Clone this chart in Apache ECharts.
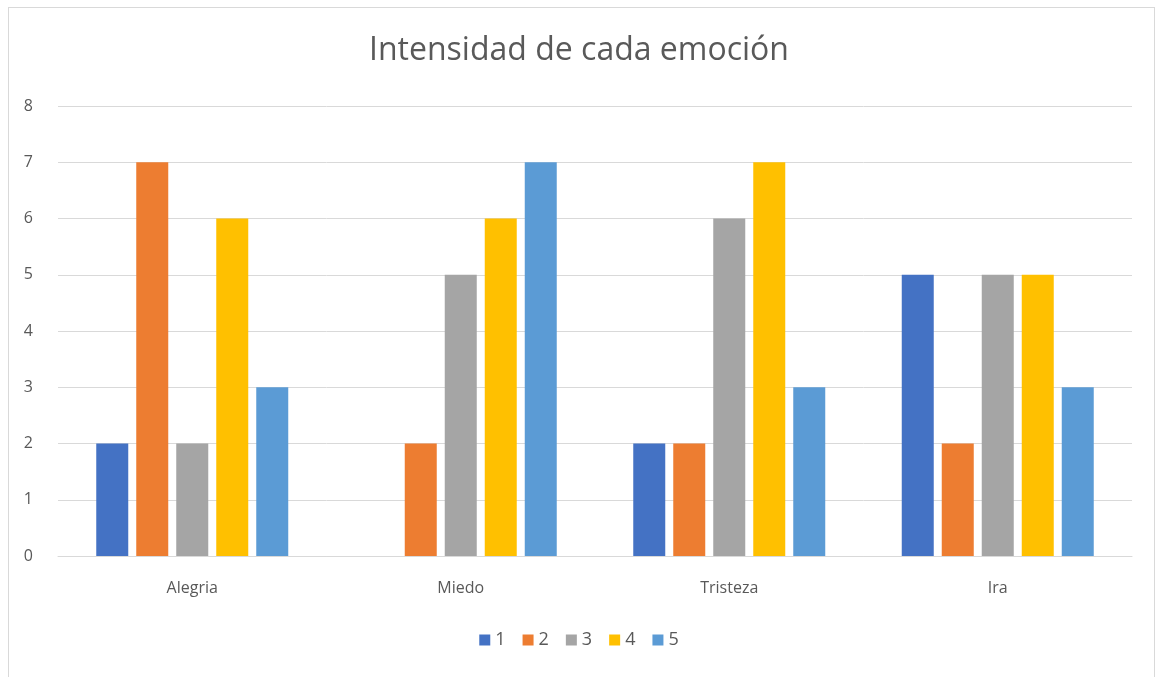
<!DOCTYPE html>
<html>
<head>
<meta charset="utf-8">
<script src="https://cdn.jsdelivr.net/npm/echarts@6/dist/echarts.min.js"></script>
<style>
  html, body { margin: 0; padding: 0; background: #fff; }
  #chart { width: 1158px; height: 677px; }
  .frame { position: absolute; left: 8px; top: 7px; width: 1147px; height: 680px; border: 1px solid #d9d9d9; box-sizing: border-box; pointer-events: none; }
</style>
</head>
<body>
<div id="chart"></div>
<div class="frame"></div>
<script>
// categorias y valores por serie
const categories = ['Alegria', 'Miedo', 'Tristeza', 'Ira'];
const seriesNames = ['1', '2', '3', '4', '5'];
const s1 = [2, 0, 2, 5];
const s2 = [7, 2, 2, 2];
const s3 = [2, 5, 6, 5];
const s4 = [6, 6, 7, 5];
const s5 = [3, 7, 3, 3];
const colors = ['#4472C4', '#ED7D31', '#A5A5A5', '#FFC000', '#5B9BD5'];

const chart = echarts.init(document.getElementById('chart'));
const font = 'Open Sans, Liberation Sans, sans-serif';

chart.setOption({
  animation: false,
  color: colors,
  title: {
    text: 'Intensidad de cada emoción',
    left: 'center',
    top: 30,
    padding: [5, 5, 5, 28],
    textStyle: { fontFamily: font, fontSize: 32, fontWeight: 'normal', color: '#595959' }
  },
  legend: {
    bottom: 23,
    left: 'center',
    padding: [5, 5, 5, 18],
    itemWidth: 11,
    itemHeight: 11,
    itemGap: 17,
    icon: 'rect',
    textStyle: { fontFamily: font, fontSize: 18, color: '#595959' },
    data: seriesNames
  },
  grid: { left: 58, right: 26, top: 106, bottom: 121 },
  xAxis: {
    type: 'category',
    data: categories,
    axisLine: { lineStyle: { color: '#d9d9d9' } },
    axisTick: { show: false },
    axisLabel: { fontFamily: font, fontSize: 16, color: '#595959', margin: 24 }
  },
  yAxis: {
    type: 'value',
    min: 0,
    max: 8,
    interval: 1,
    axisLine: { show: false },
    axisTick: { show: false },
    splitLine: { lineStyle: { color: '#d9d9d9' } },
    axisLabel: { fontFamily: font, fontSize: 16, color: '#595959', margin: 25 }
  },
  series: [s1, s2, s3, s4, s5].map((d, i) => ({
    name: seriesNames[i],
    type: 'bar',
    data: d,
    barWidth: 32,
    barGap: '25%'
  }))
});
</script>
</body>
</html>
